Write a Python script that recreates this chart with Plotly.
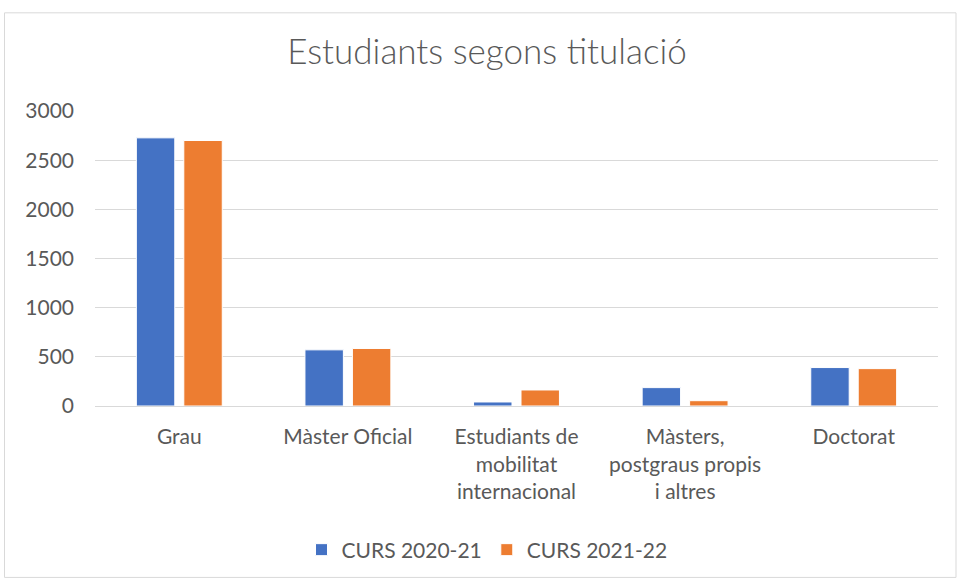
import plotly.graph_objects as go

categories = ["Grau", "Màster Oficial", "Estudiants de<br>mobilitat<br>internacional",
              "Màsters,<br>postgraus propis<br>i altres", "Doctorat"]
curs_2020_21 = [2727, 571, 41, 187, 391]
curs_2021_22 = [2700, 585, 163, 54, 380]
series_names = ["CURS 2020-21", "CURS 2021-22"]
y_ticks = [0, 500, 1000, 1500, 2000, 2500, 3000]

FONT = "Lato"
GREY = "#595959"

fig = go.Figure()
fig.add_trace(go.Bar(x=categories, y=curs_2020_21, name=series_names[0],
                     marker=dict(color="#4472C4", line=dict(color="white", width=1))))
fig.add_trace(go.Bar(x=categories, y=curs_2021_22, name=series_names[1],
                     marker=dict(color="#ED7D31", line=dict(color="white", width=1))))

L, R, T, B = 95, 19, 111, 174
W, H = 957, 581
pw, ph = W - L - R, H - T - B

def px_x(p):
    return (p - L) / pw

def px_y(p):
    return (H - B - p) / ph

fig.update_layout(
    width=W, height=H,
    margin=dict(l=L, r=R, t=T, b=B),
    paper_bgcolor="white", plot_bgcolor="white",
    barmode="group", bargap=0.437, bargroupgap=0.19,
    font=dict(family=FONT, color=GREY, size=21),
    title=dict(text="Estudiants segons titulació", x=487 / W, xref="container", xanchor="center",
               y=1 - 52 / H, yanchor="middle", yref="container",
               font=dict(family=FONT, size=35, color=GREY, weight=300)),
    xaxis=dict(showgrid=False, showline=True, linecolor="#D9D9D9", linewidth=1,
               ticks="", tickfont=dict(size=21, color=GREY), ticklabelstandoff=12),
    yaxis=dict(range=[0, 3000], tickvals=y_ticks, showgrid=True, gridcolor="#D9D9D9",
               gridwidth=1, zeroline=False, showline=False, ticks="",
               tickfont=dict(size=21, color=GREY), ticklabelstandoff=20),
    legend=dict(orientation="h", x=px_x(487), xanchor="center", y=px_y(550), yanchor="middle",
                font=dict(size=21, color=GREY), itemwidth=30, traceorder="normal"),
    shapes=[dict(type="rect", xref="paper", yref="paper",
                 x0=px_x(4.5), x1=px_x(956), y0=px_y(579), y1=px_y(12.5),
                 line=dict(color="#D9D9D9", width=1), fillcolor="rgba(0,0,0,0)", layer="below")],
)

fig.write_html("out.html", config={"displayModeBar": False},
               post_script="document.body.style.margin='0';")
